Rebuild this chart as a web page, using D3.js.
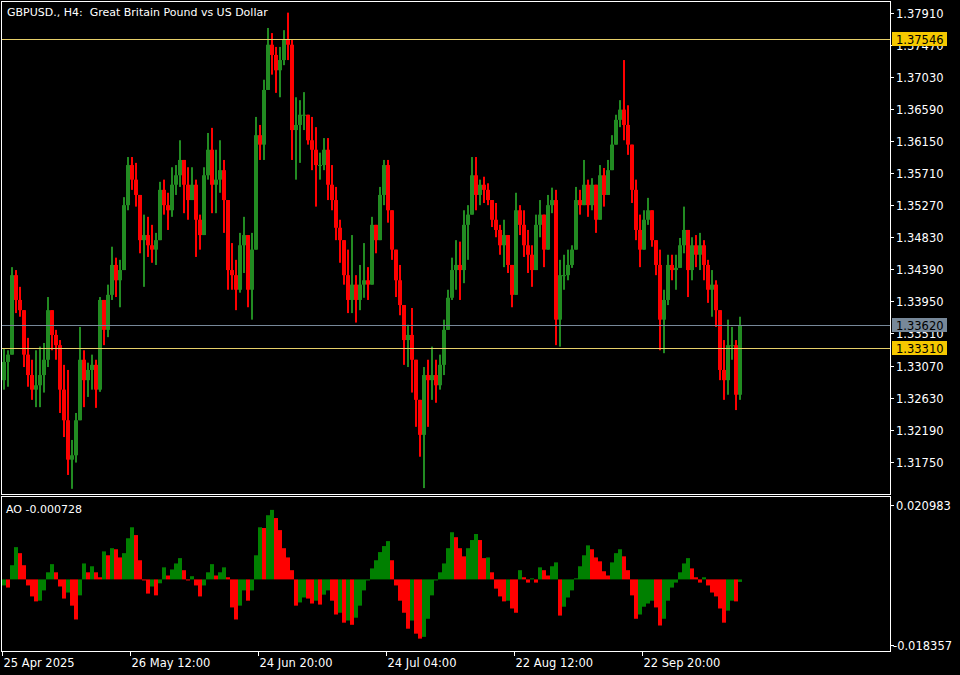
<!DOCTYPE html>
<html><head><meta charset="utf-8">
<script src="https://cdn.jsdelivr.net/npm/d3@7"></script>
<style>html,body{margin:0;padding:0;background:#000;}svg{display:block;}text{white-space:pre;}</style>
</head><body>
<svg id="chart" width="960" height="675"></svg>
<script>
// ---- data (each entry = 4 consecutive H4 bars) ----
const firstOpen = 1.3287;
const highs = [
1.3331,1.3328,1.3442,1.3438,1.3415,1.3374,1.3345,1.3315,1.3328,1.3333,
1.3338,1.3401,1.3374,1.3356,1.3342,1.3308,1.3301,1.3205,1.3242,1.3360,
1.3328,1.3311,1.3322,1.3315,1.3401,1.3390,1.3418,1.3470,1.3455,1.3452,
1.3538,1.3593,1.3593,1.3585,1.3541,1.3514,1.3511,1.3500,1.3489,1.3559,
1.3562,1.3544,1.3579,1.3582,1.3616,1.3589,1.3579,1.3579,1.3562,1.3514,
1.3579,1.3626,1.3633,1.3603,1.3616,1.3589,1.3534,1.3475,1.3452,1.3489,
1.3511,1.3486,1.3489,1.3648,1.3637,1.3699,1.3770,1.3763,1.3744,1.3744,
1.3767,1.3791,1.3754,1.3675,1.3671,1.3682,1.3651,1.3648,1.3634,1.3599,
1.3619,1.3619,1.3582,1.3552,1.3507,1.3479,1.3466,1.3486,1.3431,1.3445,
1.3475,1.3442,1.3511,1.3500,1.3552,1.3589,1.3589,1.3520,1.3466,1.3445,
1.3390,1.3363,1.3386,1.3315,1.3260,1.3305,1.3315,1.3333,1.3315,1.3322,
1.3370,1.3411,1.3455,1.3479,1.3477,1.3520,1.3527,1.3593,1.3593,1.3562,
1.3566,1.3557,1.3534,1.3530,1.3500,1.3507,1.3486,1.3445,1.3544,1.3527,
1.3520,1.3493,1.3472,1.3514,1.3534,1.3514,1.3541,1.3551,1.3548,1.3452,
1.3459,1.3466,1.3472,1.3552,1.3548,1.3589,1.3562,1.3564,1.3555,1.3582,
1.3578,1.3589,1.3623,1.3651,1.3671,1.3726,1.3664,1.3610,1.3562,1.3514,
1.3520,1.3537,1.3520,1.3479,1.3466,1.3411,1.3459,1.3459,1.3459,1.3482,
1.3525,1.3493,1.3483,1.3486,1.3489,1.3479,1.3452,1.3438,1.3424,1.3383,
1.3342,1.3370,1.3360,1.3342,1.3374];
const lows = [
1.3274,1.3278,1.3328,1.3379,1.3374,1.3305,1.3278,1.3260,1.3250,1.3250,
1.3270,1.3305,1.3328,1.3315,1.3242,1.3209,1.3157,1.3138,1.3174,1.3280,
1.3250,1.3264,1.3274,1.3249,1.3271,1.3335,1.3346,1.3397,1.3401,1.3387,
1.3438,1.3520,1.3548,1.3525,1.3461,1.3415,1.3456,1.3448,1.3445,1.3479,
1.3514,1.3493,1.3511,1.3541,1.3552,1.3516,1.3507,1.3534,1.3456,1.3466,
1.3489,1.3562,1.3516,1.3516,1.3544,1.3489,1.3411,1.3411,1.3383,1.3407,
1.3434,1.3387,1.3370,1.3466,1.3589,1.3589,1.3685,1.3706,1.3681,1.3675,
1.3719,1.3726,1.3589,1.3562,1.3585,1.3630,1.3610,1.3575,1.3525,1.3562,
1.3575,1.3534,1.3520,1.3479,1.3448,1.3418,1.3379,1.3379,1.3366,1.3383,
1.3400,1.3397,1.3418,1.3461,1.3479,1.3527,1.3503,1.3452,1.3401,1.3376,
1.3308,1.3305,1.3270,1.3223,1.3182,1.3139,1.3223,1.3260,1.3256,1.3274,
1.3294,1.3356,1.3397,1.3411,1.3397,1.3420,1.3452,1.3514,1.3520,1.3527,
1.3530,1.3527,1.3497,1.3483,1.3459,1.3442,1.3434,1.3387,1.3404,1.3486,
1.3456,1.3434,1.3415,1.3438,1.3483,1.3442,1.3466,1.3516,1.3335,1.3333,
1.3411,1.3424,1.3441,1.3466,1.3514,1.3527,1.3511,1.3520,1.3489,1.3507,
1.3525,1.3541,1.3575,1.3610,1.3634,1.3616,1.3596,1.3530,1.3479,1.3442,
1.3466,1.3500,1.3470,1.3431,1.3328,1.3324,1.3390,1.3424,1.3411,1.3441,
1.3461,1.3401,1.3424,1.3442,1.3438,1.3424,1.3393,1.3374,1.3360,1.3287,
1.3260,1.3267,1.3315,1.3246,1.3260];
const closes = [
1.3312,1.3322,1.3431,1.3397,1.3383,1.3322,1.3294,1.3274,1.3280,1.3294,
1.3315,1.3383,1.3349,1.3335,1.3274,1.3232,1.3178,1.3184,1.3232,1.3315,
1.3287,1.3301,1.3308,1.3274,1.3397,1.3356,1.3404,1.3445,1.3424,1.3438,
1.3527,1.3582,1.3562,1.3541,1.3479,1.3486,1.3472,1.3466,1.3479,1.3548,
1.3527,1.3520,1.3555,1.3568,1.3589,1.3555,1.3534,1.3555,1.3507,1.3486,
1.3568,1.3603,1.3555,1.3562,1.3575,1.3534,1.3438,1.3431,1.3411,1.3472,
1.3486,1.3411,1.3466,1.3623,1.3610,1.3685,1.3747,1.3733,1.3712,1.3726,
1.3754,1.3747,1.3630,1.3637,1.3651,1.3651,1.3616,1.3603,1.3582,1.3582,
1.3603,1.3555,1.3534,1.3496,1.3479,1.3431,1.3397,1.3418,1.3397,1.3418,
1.3424,1.3418,1.3500,1.3479,1.3541,1.3582,1.3520,1.3466,1.3424,1.3390,
1.3342,1.3349,1.3315,1.3260,1.3212,1.3294,1.3287,1.3294,1.3280,1.3308,
1.3356,1.3400,1.3438,1.3445,1.3438,1.3500,1.3514,1.3568,1.3541,1.3555,
1.3548,1.3534,1.3507,1.3493,1.3472,1.3486,1.3445,1.3404,1.3520,1.3500,
1.3472,1.3459,1.3438,1.3500,1.3514,1.3466,1.3527,1.3534,1.3370,1.3431,
1.3431,1.3445,1.3466,1.3534,1.3527,1.3555,1.3527,1.3555,1.3507,1.3568,
1.3541,1.3575,1.3610,1.3644,1.3658,1.3637,1.3610,1.3548,1.3493,1.3466,
1.3507,1.3520,1.3479,1.3445,1.3370,1.3397,1.3445,1.3438,1.3441,1.3472,
1.3493,1.3438,1.3472,1.3459,1.3472,1.3445,1.3411,1.3418,1.3383,1.3301,
1.3287,1.3335,1.3335,1.3267,1.3362];
const aoValues = [
-0.0017,-0.0023,0.0040,0.0091,0.0074,0.0040,-0.0017,-0.0048,-0.0062,-0.0060,
-0.0031,0.0020,0.0043,0.0020,-0.0020,-0.0054,-0.0037,-0.0074,-0.0113,-0.0045,
0.0045,0.0020,0.0037,0.0020,0.0006,0.0079,0.0068,0.0088,0.0085,0.0062,
0.0074,0.0116,0.0147,0.0125,0.0054,-0.0003,-0.0040,-0.0020,-0.0045,-0.0011,
0.0034,0.0011,0.0028,0.0045,0.0060,0.0026,-0.0003,0.0009,-0.0017,-0.0048,
-0.0017,0.0020,0.0043,0.0011,0.0020,0.0034,0.0006,-0.0079,-0.0113,-0.0074,
-0.0031,-0.0060,-0.0031,0.0068,0.0147,0.0145,0.0181,0.0196,0.0173,0.0139,
0.0088,0.0062,0.0026,-0.0074,-0.0065,-0.0051,-0.0054,-0.0068,-0.0060,-0.0071,
-0.0043,-0.0031,-0.0060,-0.0099,-0.0094,-0.0122,-0.0116,-0.0128,-0.0108,-0.0074,
-0.0031,-0.0003,0.0031,0.0054,0.0077,0.0094,0.0108,0.0054,-0.0017,-0.0060,
-0.0094,-0.0139,-0.0116,-0.0153,-0.0167,-0.0162,-0.0111,-0.0045,-0.0003,0.0020,
0.0045,0.0088,0.0133,0.0119,0.0088,0.0065,0.0088,0.0111,0.0128,0.0111,
0.0060,0.0062,0.0020,-0.0026,-0.0048,-0.0062,-0.0060,-0.0082,-0.0094,0.0026,
0.0006,-0.0009,0.0003,-0.0009,0.0034,0.0026,0.0011,0.0037,0.0048,-0.0102,
-0.0077,-0.0051,-0.0031,0.0003,0.0037,0.0068,0.0096,0.0085,0.0062,0.0051,
0.0023,0.0011,0.0048,0.0074,0.0085,0.0065,0.0026,-0.0045,-0.0111,-0.0099,
-0.0077,-0.0068,-0.0060,-0.0079,-0.0130,-0.0111,-0.0060,-0.0023,-0.0009,0.0020,
0.0045,0.0060,0.0031,0.0006,-0.0009,0.0006,-0.0017,-0.0037,-0.0048,-0.0082,
-0.0122,-0.0088,-0.0060,-0.0062,-0.0007];
const priceTicks = [1.37910,1.37470,1.37030,1.36590,1.36150,1.35710,1.35270,1.34830,1.34390,1.33950,1.33510,1.33070,1.32630,1.32190,1.31750];
const timeLabels = ["25 Apr 2025","26 May 12:00","24 Jun 20:00","24 Jul 04:00","22 Aug 12:00","22 Sep 20:00"];
const timeLabelBars = [0,128,256,384,512,640];
const levelLines = [1.37546, 1.33310];
const bidPrice = 1.33620;
const aoScaleLabels = [0.020983, -0.018357];
const aoCurrent = -0.000728;
const title = "GBPUSD., H4:  Great Britain Pound vs US Dollar";
const barsPerCandle = 4;

// ---- drawing ----
const svg = d3.select("#chart");
const W = 960, H = 675;
const FONT = "DejaVu Sans, sans-serif";
const GREEN = "#228b22", RED = "#ff0000", AOGREEN = "#008000";
const LEVEL = "#e6cf6a", LEVELBG = "#f5c800", BIDC = "#778899";

svg.append("rect").attr("width", W).attr("height", H).attr("fill", "#000");

const totalBars = closes.length * barsPerCandle;
const x = d3.scaleLinear().domain([0, totalBars]).range([2, 2 + totalBars]);
const y = d3.scaleLinear().domain([1.31302, 1.38063]).range([494.5, 1.5]);
const ya = d3.scaleLinear().domain([aoScaleLabels[1], aoScaleLabels[0]]).range([644.5, 505]);

const candles = closes.map((c, i) => {
  const o = i === 0 ? firstOpen : closes[i - 1];
  return {i, o, c, h: Math.max(highs[i], o, c), l: Math.min(lows[i], o, c)};
});

const main = svg.append("g");
main.selectAll("rect.wick").data(candles).join("rect")
  .attr("x", d => x(d.i * barsPerCandle) + 1)
  .attr("width", 2)
  .attr("y", d => y(d.h))
  .attr("height", d => Math.max(1, y(d.l) - y(d.h)))
  .attr("fill", d => d.c >= d.o ? GREEN : RED);
main.selectAll("rect.body").data(candles).join("rect")
  .attr("x", d => x(d.i * barsPerCandle))
  .attr("width", 4)
  .attr("y", d => y(Math.max(d.o, d.c)))
  .attr("height", d => Math.max(1, Math.abs(y(d.o) - y(d.c))))
  .attr("fill", d => d.c >= d.o ? GREEN : RED);

// level lines + bid line
levelLines.forEach(v => {
  svg.append("line").attr("x1", 2).attr("x2", 890).attr("y1", Math.round(y(v)) + 0.5).attr("y2", Math.round(y(v)) + 0.5)
    .attr("stroke", LEVEL).attr("stroke-width", 1);
});
svg.append("line").attr("x1", 2).attr("x2", 890).attr("y1", Math.round(y(bidPrice)) + 0.5).attr("y2", Math.round(y(bidPrice)) + 0.5)
  .attr("stroke", BIDC).attr("stroke-width", 1);

// AO histogram
const ao = svg.append("g");
ao.selectAll("rect").data(aoValues).join("rect")
  .attr("x", (d, i) => x(i * barsPerCandle))
  .attr("width", barsPerCandle)
  .attr("y", d => Math.min(ya(0), ya(d)))
  .attr("height", d => Math.max(1, Math.abs(ya(d) - ya(0))))
  .attr("fill", (d, i) => (i === 0 || d > aoValues[i - 1]) ? AOGREEN : RED);

// frames
svg.append("rect").attr("x", 1.5).attr("y", 1.5).attr("width", 889).attr("height", 493)
  .attr("fill", "none").attr("stroke", "#fff");
svg.append("rect").attr("x", 1.5).attr("y", 496.5).attr("width", 889).attr("height", 155)
  .attr("fill", "none").attr("stroke", "#fff");

// price axis
const pa = svg.append("g").attr("font-family", FONT).attr("font-size", 11.5).attr("fill", "#fff");
priceTicks.forEach(t => {
  const yy = Math.round(y(t)) + 0.5;
  pa.append("line").attr("x1", 890).attr("x2", 894).attr("y1", yy).attr("y2", yy).attr("stroke", "#fff");
  pa.append("text").attr("x", 896).attr("y", yy + 4.5).text(t.toFixed(5));
});
// AO axis
aoScaleLabels.forEach(t => {
  const yy = Math.round(ya(t)) + 0.5;
  pa.append("line").attr("x1", 890).attr("x2", 894).attr("y1", yy).attr("y2", yy).attr("stroke", "#fff");
  pa.append("text").attr("x", t < 0 ? 893 : 896).attr("y", yy + 4.5).text(t.toFixed(6));
});

// highlighted price labels (drawn over the axis labels, as in the terminal)
function tag(v, bg) {
  const yy = Math.round(y(v));
  svg.append("rect").attr("x", 892).attr("y", yy - 7).attr("width", 55).attr("height", 14).attr("fill", bg);
  svg.append("text").attr("x", 896).attr("y", yy + 4.5).attr("font-family", FONT).attr("font-size", 11.5)
    .attr("fill", "#000").text(v.toFixed(5));
}
levelLines.forEach(v => tag(v, LEVELBG));
tag(bidPrice, BIDC);

// time axis
const ta = svg.append("g").attr("font-family", FONT).attr("font-size", 11.5).attr("fill", "#fff");
timeLabels.forEach((lab, k) => {
  const xx = Math.round(x(timeLabelBars[k])) + 0.5;
  ta.append("line").attr("x1", xx).attr("x2", xx).attr("y1", 652).attr("y2", 656).attr("stroke", "#fff");
  ta.append("text").attr("x", xx + 1).attr("y", 667).text(lab);
});

// titles
svg.append("text").attr("x", 7).attr("y", 16).attr("font-family", FONT).attr("font-size", 11)
  .attr("fill", "#fff").attr("xml:space", "preserve").text(title);
svg.append("text").attr("x", 6).attr("y", 513).attr("font-family", FONT).attr("font-size", 11)
  .attr("fill", "#fff").text("AO " + aoCurrent.toFixed(6));
</script>
</body></html>
